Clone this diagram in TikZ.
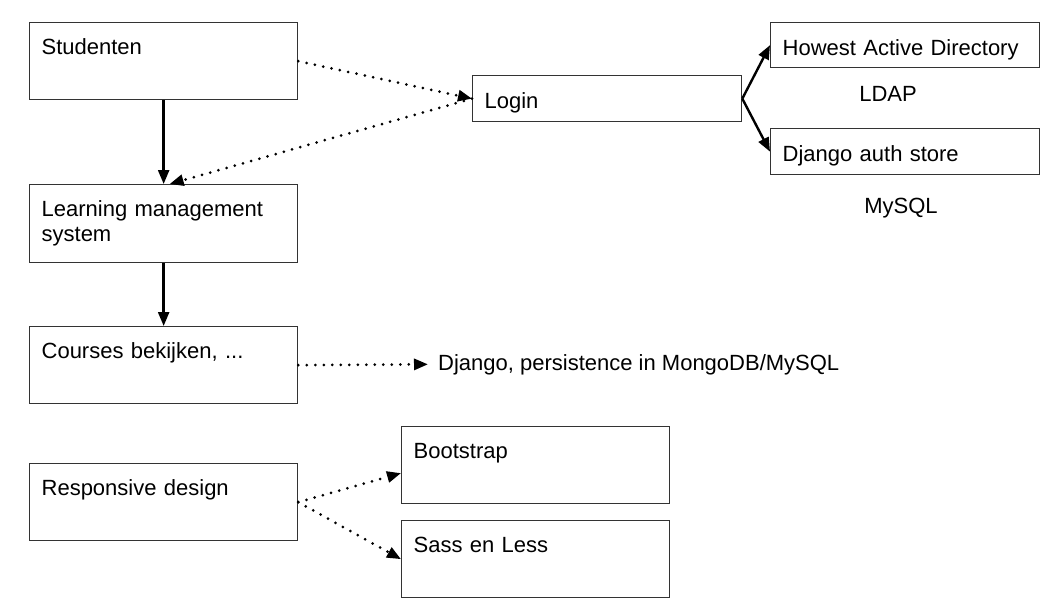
\documentclass[tikz,border=0pt]{standalone}
\usepackage{fontspec}
\setmainfont{Liberation Sans}
\usetikzlibrary{arrows.meta,positioning}
\tikzset{
  basic/.style     = {draw=black!80, line width=1.3pt, rectangle, align=left,
                      font=\fontsize{22}{25}\selectfont, inner ysep=0pt, inner xsep=12pt},
  big box/.style   = {basic, anchor=north west, text width=244pt, minimum width=268pt,
                      text height=32pt, text depth=45pt},
  small box/.style = {basic, anchor=north west, text width=245pt, minimum width=269pt,
                      text height=32.5pt, text depth=13.5pt},
  note/.style      = {font=\fontsize{22}{25}\selectfont, inner sep=0pt},
  solid arrow/.style  = {->, line width=2.4pt},
  dotted arrow/.style = {->, line width=3pt, line cap=round, dash pattern=on 0pt off 8.5pt},
}

\begin{document}
\begin{tikzpicture}[x=1pt, y=-1pt, >={Triangle[length=14pt 0 0,width=11pt 0 0]}]
\useasboundingbox (0,0) rectangle (1054,614);

% linker kolom
\node[big box] (c1) at (29,22) {Studenten};
\node[big box, text depth=46pt] (c2) at (29,184) {Learning management\\ system};
\node[big box] (c3) at (29,326) {Courses bekijken, ...};
\node[big box] (c4) at (29,463) {Responsive design};

% login en authenticatie
\node[small box] (l) at (472,75) {Login};
\node[small box, text depth=12.5pt] (l1) at (770,22) {Howest Active Directory};
\node[small box] (l2) at (770,128) {Django auth store};
\node[note, anchor=base] (l1n) at (888,101) {LDAP};
\node[note, anchor=base] (l2n) at (901,213) {MySQL};

% persistence
\node[note, anchor=base west, inner xsep=10pt] (c3n) at (428,370) {Django, persistence in MongoDB/MySQL};

% responsive design
\node[big box] (c41) at (401,426) {Bootstrap};
\node[big box] (c42) at (401,520) {Sass en Less};

\draw[solid arrow] (c1.south) -- (c2.north);
\draw[solid arrow] (c2.south) -- (c3.north);

\draw[dotted arrow] (c1.east) -- (l.west);
\draw[dotted arrow] (l.west) -- ([xshift=6pt]c2.north);

\foreach \value in {1,2}
  \draw[solid arrow] (l.east) -- (l\value.west);

\draw[dotted arrow] (c3.east) -- (c3n.west);

\draw[dotted arrow] (c4.east) -- ([yshift=-8pt]c41.west);
\draw[dotted arrow] (c4.east) -- (c42.west);

\end{tikzpicture}
\end{document}
